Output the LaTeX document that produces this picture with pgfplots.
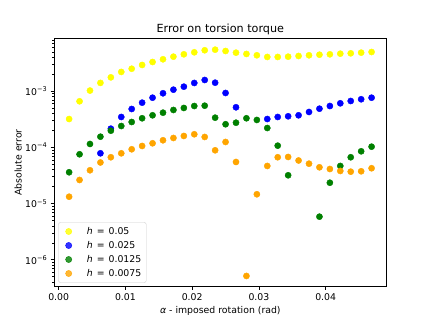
\documentclass[border=0pt]{standalone}
\usepackage{fontspec}
\setmainfont{DejaVu Sans}
\usepackage{pgfplots}
\pgfplotsset{compat=1.18}

\definecolor{cyel}{RGB}{255,255,0}
\definecolor{cblu}{RGB}{0,0,255}
\definecolor{cgrn}{RGB}{0,128,0}
\definecolor{corg}{RGB}{255,165,0}
\newcommand{\heq}[1]{\textit{h}\hspace{4pt}=\hspace{4pt}#1}

\begin{document}
\begin{tikzpicture}
\path[use as bounding box] (0,0) rectangle (430pt,323pt);
\begin{axis}[
  at={(54pt,36.3pt)}, anchor=south west,
  scale only axis, width=332.7pt, height=248.4pt,
  ymode=log, log basis y=10,
  xmin=-0.000703, xmax=0.04914,
  ymin=3.33e-7, ymax=8.77e-3,
  axis line style={line width=0.75pt},
  tick style={line width=0.75pt, black},
  tick align=outside, xtick pos=bottom, ytick pos=left,
  major tick length=3.3pt, minor tick length=1.9pt,
  scaled x ticks=false,
  xtick={0,0.01,0.02,0.03,0.04},
  xticklabels={0.00,0.01,0.02,0.03,0.04},
  ytick={1e-6,1e-5,1e-4,1e-3},
  yticklabels={10\textsuperscript{−6},10\textsuperscript{−5},10\textsuperscript{−4},10\textsuperscript{−3}},
  minor ytick={4e-7,5e-7,6e-7,7e-7,8e-7,9e-7,
    2e-6,3e-6,4e-6,5e-6,6e-6,7e-6,8e-6,9e-6,
    2e-5,3e-5,4e-5,5e-5,6e-5,7e-5,8e-5,9e-5,
    2e-4,3e-4,4e-4,5e-4,6e-4,7e-4,8e-4,9e-4,
    2e-3,3e-3,4e-3,5e-3,6e-3,7e-3,8e-3},
  tick label style={font=\fontsize{9.33}{11}\selectfont},
  title={Error on torsion torque},
  every axis title shift=0pt,
  title style={font=\fontsize{11.2}{13}\selectfont, at={(axis description cs:0.5,1.0225)}, anchor=base},
  xlabel={\textit{α} - imposed rotation (rad)},
  ylabel={Absolute error},
  label style={font=\fontsize{9.33}{11}\selectfont},
  xlabel style={at={(axis description cs:0.5,-0.098)}, anchor=center},
  ylabel style={at={(axis description cs:-0.108,0.5)}, anchor=center, rotate=0},
  legend style={at={(axis description cs:0.0129,0.0161)}, anchor=south west,
    font=\fontsize{9.33}{11}\selectfont, draw=black!20, rounded corners=2pt,
    fill=white, fill opacity=0.8, text opacity=1,
    nodes={text height=7pt, text depth=2pt, inner ysep=2.5pt}},
  legend cell align=left,
  legend image code/.code={\draw[#1] plot coordinates {(7pt,0pt)};\path (0pt,0pt) (23pt,0pt);},
]
\addplot[only marks, mark=*, color=cyel, mark size=3.1pt] coordinates {
(0.0015625,3.21e-4) (0.003125,6.64e-4) (0.0046875,1.03e-3) (0.00625,1.41e-3)
(0.0078125,1.77e-3) (0.009375,2.21e-3) (0.0109375,2.52e-3) (0.0125,2.94e-3)
(0.0140625,3.32e-3) (0.015625,3.71e-3) (0.0171875,4.13e-3) (0.01875,4.55e-3)
(0.0203125,4.94e-3) (0.021875,5.37e-3) (0.0234375,5.50e-3) (0.025,5.21e-3)
(0.0265625,4.87e-3) (0.028125,4.62e-3) (0.0296875,4.37e-3) (0.03125,4.08e-3)
(0.0328125,4.08e-3) (0.034375,4.13e-3) (0.0359375,4.25e-3) (0.0375,4.37e-3)
(0.0390625,4.48e-3) (0.040625,4.55e-3) (0.0421875,4.67e-3) (0.04375,4.74e-3)
(0.0453125,4.87e-3) (0.046875,5.00e-3)
};
\addlegendentry{\heq{0.05}}
\addplot[only marks, mark=*, color=cblu, mark size=3.1pt] coordinates {
(0.00625,7.88e-5) (0.0078125,2.16e-4) (0.009375,3.49e-4) (0.0109375,4.84e-4)
(0.0125,6.27e-4) (0.0140625,7.69e-4) (0.015625,9.21e-4) (0.0171875,1.068e-3)
(0.01875,1.208e-3) (0.0203125,1.406e-3) (0.021875,1.589e-3) (0.0234375,1.422e-3)
(0.025,9.33e-4) (0.0265625,5.19e-4) (0.03125,3.21e-4) (0.0328125,3.49e-4)
(0.034375,3.59e-4) (0.0359375,3.74e-4) (0.0375,4.28e-4) (0.0390625,4.90e-4)
(0.040625,5.47e-4) (0.0421875,6.11e-4) (0.04375,6.72e-4) (0.0453125,7.21e-4)
(0.046875,7.69e-4)
};
\addlegendentry{\heq{0.025}}
\addplot[only marks, mark=*, color=cgrn, mark size=3.1pt] coordinates {
(0.0015625,3.62e-5) (0.003125,7.57e-5) (0.0046875,1.154e-4) (0.00625,1.556e-4)
(0.0078125,1.99e-4) (0.009375,2.41e-4) (0.0109375,2.84e-4) (0.0125,3.31e-4)
(0.0140625,3.74e-4) (0.015625,4.16e-4) (0.0171875,4.65e-4) (0.01875,5.05e-4)
(0.0203125,5.47e-4) (0.021875,5.54e-4) (0.0234375,3.39e-4) (0.025,2.59e-4)
(0.0265625,2.76e-4) (0.028125,3.31e-4) (0.0296875,3.09e-4) (0.03125,2.22e-4)
(0.0328125,1.077e-4) (0.034375,3.20e-5) (0.0390625,5.87e-6) (0.040625,2.36e-5)
(0.0421875,4.69e-5) (0.04375,6.70e-5) (0.0453125,8.55e-5) (0.046875,1.033e-4)
};
\addlegendentry{\heq{0.0125}}
\addplot[only marks, mark=*, color=corg, mark size=3.1pt] coordinates {
(0.0015625,1.33e-5) (0.003125,2.64e-5) (0.0046875,3.93e-5) (0.00625,5.41e-5)
(0.0078125,6.70e-5) (0.009375,7.88e-5) (0.0109375,9.29e-5) (0.0125,1.064e-4)
(0.0140625,1.188e-4) (0.015625,1.343e-4) (0.0171875,1.476e-4) (0.01875,1.603e-4)
(0.0203125,1.718e-4) (0.021875,1.538e-4) (0.0234375,8.91e-5) (0.025,1.253e-4)
(0.0265625,5.52e-5) (0.028125,5.17e-7) (0.0296875,1.47e-5) (0.03125,4.69e-5)
(0.0328125,6.70e-5) (0.034375,6.78e-5) (0.0359375,5.87e-5) (0.0375,5.15e-5)
(0.0390625,4.44e-5) (0.040625,4.14e-5) (0.0421875,3.82e-5) (0.04375,3.71e-5)
(0.0453125,3.77e-5) (0.046875,4.27e-5)
};
\addlegendentry{\heq{0.0075}}
\end{axis}
\end{tikzpicture}
\end{document}
